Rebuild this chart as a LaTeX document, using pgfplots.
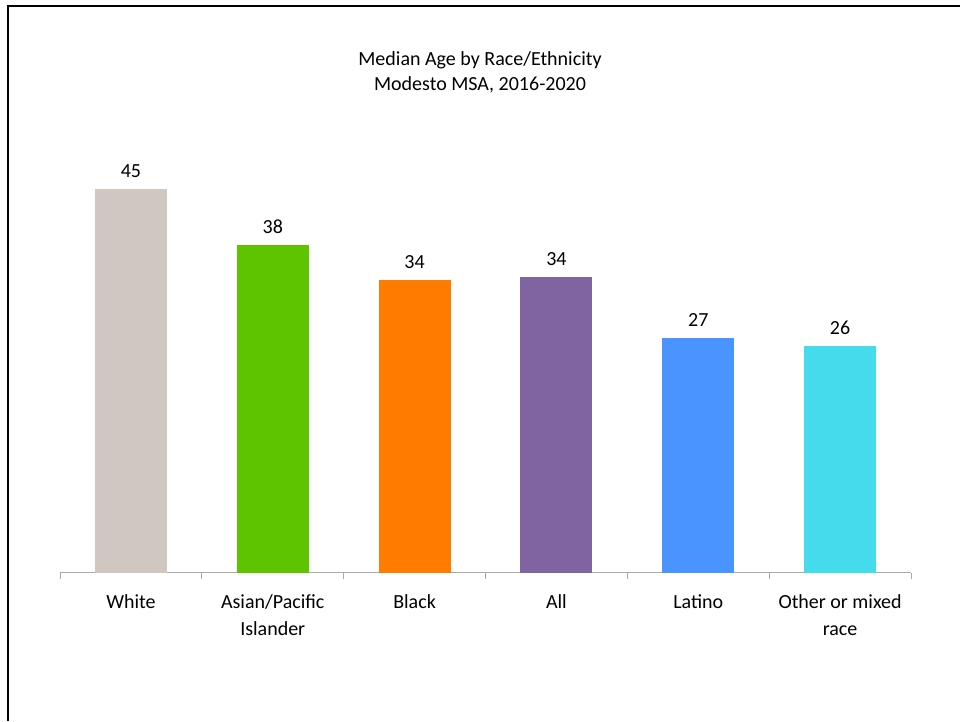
\documentclass[border=0pt]{standalone}
\usepackage{pgfplots}
\pgfplotsset{compat=1.18}
\usepackage{fontspec}
\setmainfont{Carlito}
\definecolor{cWhite}{RGB}{208,199,192}
\definecolor{cAsian}{RGB}{94,196,0}
\definecolor{cBlack}{RGB}{255,124,0}
\definecolor{cAll}{RGB}{128,100,162}
\definecolor{cLatino}{RGB}{74,148,255}
\definecolor{cOther}{RGB}{69,218,236}
\definecolor{axgray}{RGB}{170,170,170}
\begin{document}
\begin{tikzpicture}
\useasboundingbox (0,0) rectangle (720pt,540.75pt);
\draw[line width=1.9pt, black] (6pt,0) -- (6pt,536.25pt) -- (720pt,536.25pt);
\node[align=center, font=\fontsize{15pt}{18.75pt}\selectfont] at (360pt,486.4pt)
  {Median Age by Race/Ethnicity\\Modesto MSA, 2016-2020};
\begin{axis}[
  at={(45pt,111pt)}, anchor=south west,
  scale only axis, width=638.25pt, height=320.25pt,
  xmin=-0.5, xmax=5.5, ymin=0, ymax=50,
  axis y line=none,
  axis x line*=bottom,
  x axis line style={-, draw=axgray, line width=0.75pt},
  ybar, bar width=54pt, bar shift=0pt,
  xtick={0,1,2,3,4,5},
  xticklabels={White, Asian/Pacific\\Islander, Black, All, Latino, Other or mixed\\race},
  major tick length=0pt,
  minor xtick={-0.5,0.5,1.5,2.5,3.5,4.5,5.5},
  minor tick length=4.5pt,
  tick align=outside,
  minor tick style={draw=axgray, line width=0.75pt},
  xticklabel style={align=center, font=\fontsize{15pt}{20pt}\selectfont, anchor=north, yshift=-12.75pt},
  nodes near coords,
  point meta=explicit symbolic,
  every node near coord/.append style={anchor=south, inner sep=0pt, yshift=8.25pt, font=\fontsize{15pt}{18pt}\selectfont, text=black},
  clip=false,
]
\addplot[fill=cWhite, draw=none] coordinates {(0,45.0) [45]};
\addplot[fill=cAsian, draw=none] coordinates {(1,38.4) [38]};
\addplot[fill=cBlack, draw=none] coordinates {(2,34.3) [34]};
\addplot[fill=cAll, draw=none] coordinates {(3,34.7) [34]};
\addplot[fill=cLatino, draw=none] coordinates {(4,27.5) [27]};
\addplot[fill=cOther, draw=none] coordinates {(5,26.6) [26]};
\end{axis}
\end{tikzpicture}
\end{document}
